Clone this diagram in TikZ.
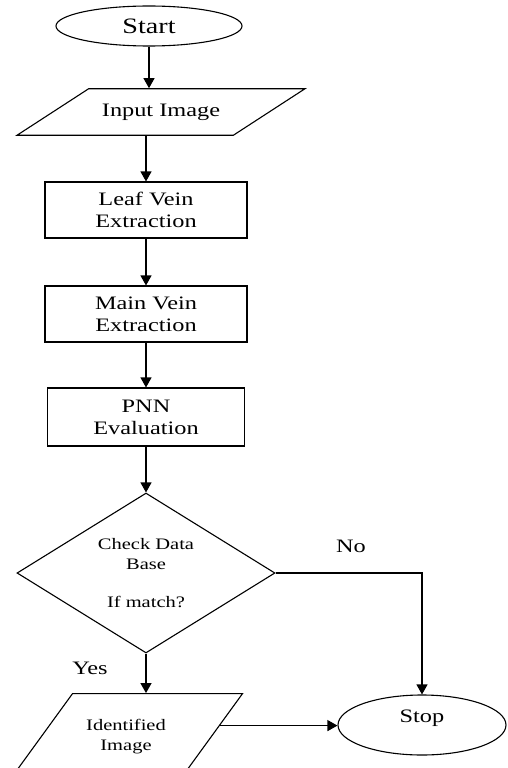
\documentclass[tikz,border=0pt]{standalone}
\usepackage{fontspec}
\setmainfont{Liberation Serif}[FakeStretch=1.28]
\usetikzlibrary{shapes.geometric,arrows.meta}
\tikzset{
  box/.style={draw, minimum width=202pt, minimum height=56pt, align=center, font=\fontsize{19}{22}\selectfont},
  term/.style={draw, ellipse, inner sep=0pt},
  io/.style={draw, trapezium, trapezium stretches body, align=center},
  lbl/.style={font=\fontsize{19}{22}\selectfont}
}
\begin{document}
\begin{tikzpicture}[x=1pt,y=-1pt,line width=1.1pt,>={Triangle[length=10pt,width=11pt]}]
\clip (0,0) rectangle (507,768);
\node[term, minimum width=186pt, minimum height=40pt, font=\fontsize{22}{24}\selectfont](start) at (149,26) {Start};
\node[io, trapezium left angle=33, trapezium right angle=147, inner ysep=15pt, minimum width=288pt, font=\fontsize{19}{22}\selectfont](input) at (161,112) {Input Image};
\node[box](leaf) at (146,210) {Leaf Vein\\Extraction};
\node[box](main) at (146,314) {Main Vein\\Extraction};
\node[box, minimum width=197pt, minimum height=58pt](pnn) at (146,417) {PNN\\Evaluation};
\node[draw, diamond, aspect=1.6, inner sep=0pt, minimum width=258pt, minimum height=160pt, align=center, font=\fontsize{16}{20}\selectfont](dia) at (146,573) {Check Data\\Base\\[18pt]If match?};
\node[io, trapezium left angle=54, trapezium right angle=126, inner ysep=26pt, minimum width=233pt, font=\fontsize{16}{20}\selectfont](ident) at (126,737) {Identified\\Image};
\node[term, minimum width=168pt, minimum height=60pt, text depth=17pt, font=\fontsize{19}{22}\selectfont](stop) at (422,725) {Stop};
\node[lbl](no) at (351,546) {No};
\node[lbl](yes) at (90,668) {Yes};
% connectors
\draw[->] (start) -- (start |- input.north);
\draw[->] (input.south -| leaf) -- (leaf);
\foreach \a/\b in {leaf/main,main/pnn,pnn/dia}
\draw[->] (\a) -- (\b);
\draw[->] (dia) -- (dia |- ident.north);
\draw[->] (dia) -| (stop);
\path (ident.top right corner) -- (ident.bottom right corner) coordinate[pos=0.37](idout);
\draw[->] (idout) -- (idout -| stop.west);
\end{tikzpicture}
\end{document}
